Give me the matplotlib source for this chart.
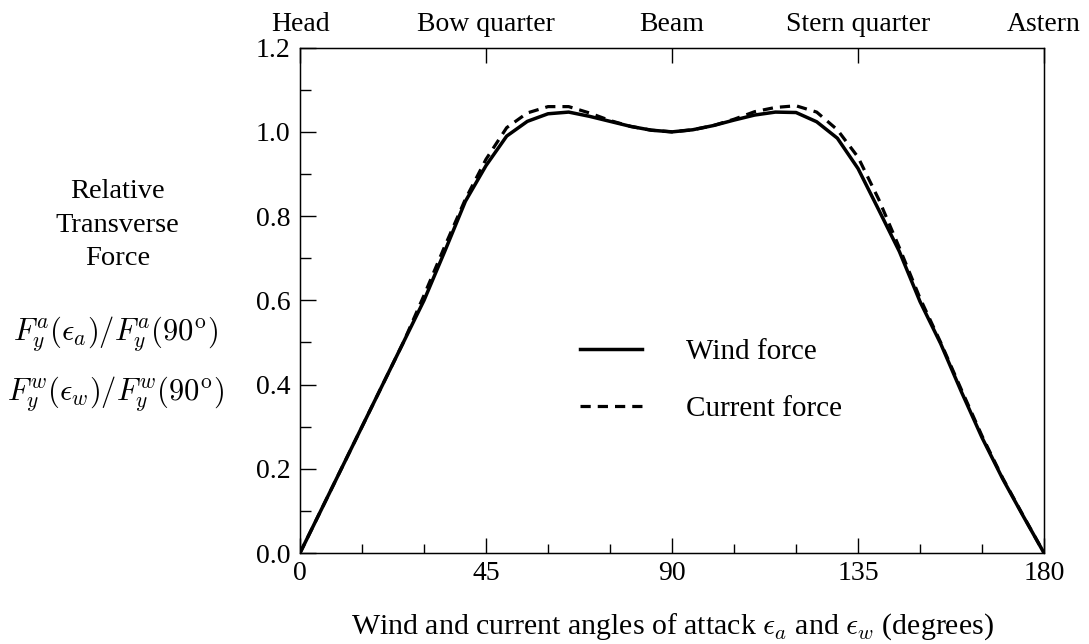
"""Relative transverse wind and current forces against angle of attack."""

import numpy as np
import matplotlib

matplotlib.use("Agg")
import matplotlib.pyplot as plt

plt.rcParams["font.family"] = ["Liberation Serif", "DejaVu Serif"]
plt.rcParams["mathtext.fontset"] = "cm"

# Angles of attack (degrees).
angles = np.arange(0, 185, 5)

# Relative transverse force, wind.
wind_force = [
    0.0, 0.10, 0.20, 0.30, 0.40, 0.50, 0.60, 0.716, 0.835, 0.92,
    0.99, 1.025, 1.043, 1.047, 1.037, 1.025, 1.013, 1.004, 1.0,
    1.005, 1.015, 1.028, 1.04, 1.047, 1.046, 1.024, 0.985, 0.913,
    0.815, 0.716, 0.597, 0.497, 0.383, 0.274, 0.176, 0.087, 0.0,
]

# Relative transverse force, current.
current_force = [
    0.0, 0.10, 0.20, 0.30, 0.40, 0.50, 0.612, 0.728, 0.84, 0.935,
    1.01, 1.045, 1.06, 1.06, 1.045, 1.027, 1.013, 1.004, 1.0,
    1.005, 1.015, 1.03, 1.048, 1.058, 1.062, 1.047, 1.005, 0.94,
    0.84, 0.725, 0.605, 0.50, 0.388, 0.278, 0.178, 0.088, 0.0,
]

# Headings marked along the top axis.
heading_ticks = [0, 45, 90, 135, 180]
heading_labels = ["Head", "Bow quarter", "Beam", "Stern quarter", "Astern"]

fig = plt.figure(figsize=(10.89, 6.44), dpi=100)
ax = fig.add_axes([0.2755, 0.1413, 0.6832, 0.7847])

ax.plot(angles, wind_force, color="black", linewidth=2.5, label="Wind force")
ax.plot(angles, current_force, color="black", linewidth=2.3,
        dashes=(3.2, 2.2), label="Current force")

ax.set_xlim(0, 180)
ax.set_ylim(0, 1.2)

# Bottom and left axis ticks.
ax.set_xticks(heading_ticks)
ax.set_xticks(np.arange(0, 181, 15), minor=True)
ax.set_yticks(np.arange(0, 1.21, 0.2))
ax.set_yticks(np.arange(0, 1.21, 0.1), minor=True)
ax.set_yticklabels([f"{v:.1f}" for v in np.arange(0, 1.21, 0.2)])
ax.tick_params(which="major", direction="in", length=10.8, width=1,
               labelsize=20, right=False, top=False)
ax.tick_params(axis="x", which="major", pad=6)
ax.tick_params(axis="y", which="major", length=11.5, pad=7)
ax.tick_params(axis="y", which="minor", direction="in", length=7.7,
               width=1, right=False)
ax.tick_params(axis="x", which="minor", direction="in", length=6.5,
               width=1, top=False)

# Top axis with heading names.
top = ax.twiny()
top.set_xlim(ax.get_xlim())
top.set_xticks(heading_ticks)
top.set_xticklabels(heading_labels)
top.tick_params(direction="in", length=11, width=1, labelsize=20, pad=8)

for spine in ax.spines.values():
    spine.set_linewidth(1.0)

ax.set_xlabel(r"Wind and current angles of attack $\epsilon_a$ and "
              r"$\epsilon_w$ (degrees)", fontsize=21.5, labelpad=18)

# Y-axis description placed to the left.
fig.text(0.108, 0.6506, "Relative\nTransverse\nForce", ha="center",
         va="center", fontsize=20.5, linespacing=1.45)
fig.text(0.106, 0.481, r"$F_y^a(\epsilon_a)/F_y^a(90^{\rm o})$",
         ha="center", va="center", fontsize=22)
fig.text(0.106, 0.388, r"$F_y^w(\epsilon_w)/F_y^w(90^{\rm o})$",
         ha="center", va="center", fontsize=22)

ax.legend(loc="upper left", bbox_to_anchor=(0.376, 0.424), frameon=False,
          fontsize=21, handlelength=2.15, handletextpad=1.5,
          labelspacing=1.05, borderpad=0, borderaxespad=0)

fig.savefig("out.png", dpi=100)
